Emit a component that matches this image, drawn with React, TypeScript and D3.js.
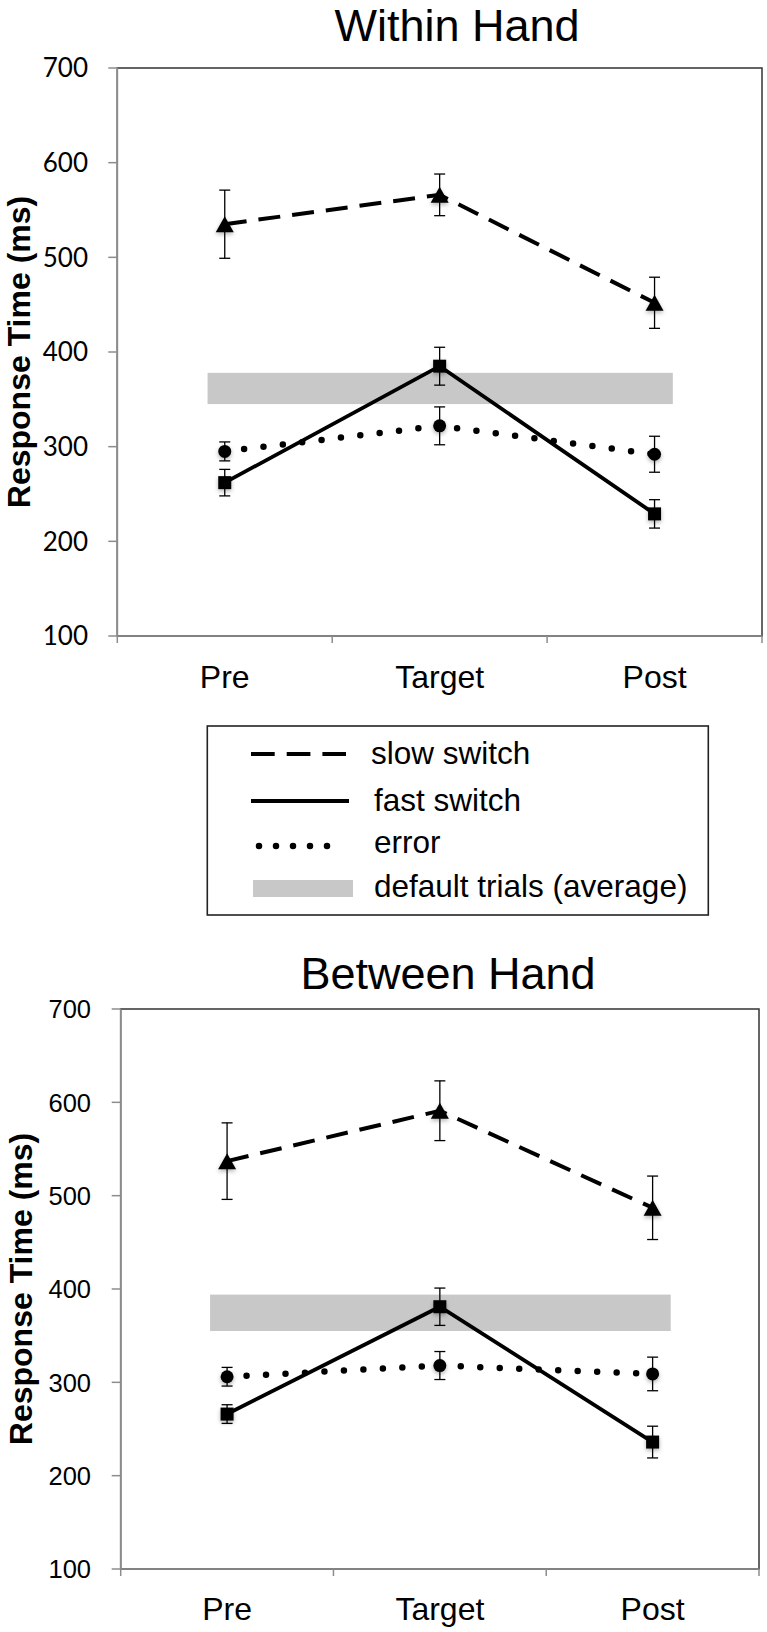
import React from 'react';
import * as d3 from 'd3';

// categories and axis ticks
const categories = ['Pre', 'Target', 'Post'];
const yTicks = [100, 200, 300, 400, 500, 600, 700];

// Within Hand (means and error bar half-widths, ms)
const withinSlow = [535, 566, 452];
const withinSlowErr = [36, 22, 27];
const withinFast = [262, 385, 229];
const withinFastErr = [14, 20, 15];
const withinError = [295, 322, 292];
const withinErrorErr = [10, 20, 19];
const withinDefault = [345, 378];

// Between Hand
const betweenSlow = [537, 591, 487];
const betweenSlowErr = [41, 32, 34];
const betweenFast = [266, 381, 236];
const betweenFastErr = [10, 20, 17];
const betweenError = [306, 318, 309];
const betweenErrorErr = [10, 15, 18];
const betweenDefault = [355, 394];

const legendItems = ['slow switch', 'fast switch', 'error', 'default trials (average)'];

type Kind = 'slow' | 'fast' | 'error';

const styles: Record<Kind, { dash: string; width: number; cap: 'butt' | 'round' }> = {
  slow: { dash: '22 12', width: 4, cap: 'butt' },
  fast: { dash: 'none', width: 3.8, cap: 'butt' },
  error: { dash: '0 19.5', width: 6.5, cap: 'round' },
};

const SANS = '"Liberation Sans", Arial, Helvetica, sans-serif';

interface PanelProps {
  title: string;
  data: Record<Kind, { values: number[]; errors: number[] }>;
  band: number[];
  frame: { l: number; t: number; r: number; b: number };
  titleX: number;
  titleY: number;
  labelX: number;
  tickEndX: number;
  tickFont: string;
  tickSize: number;
  xLabelY: number;
}

const marker = (kind: Kind, x: number, y: number) => {
  if (kind === 'slow') {
    const w = 18, h = 16;
    return <path d={`M${x},${y - h / 2}L${x + w / 2},${y + h / 2}L${x - w / 2},${y + h / 2}Z`} fill="#000" />;
  }
  if (kind === 'fast') return <rect x={x - 6.5} y={y - 6.5} width={13} height={13} fill="#000" />;
  return <circle cx={x} cy={y} r={6.5} fill="#000" />;
};

const Panel: React.FC<PanelProps> = ({ title, data, band, frame, titleX, titleY, labelX, tickEndX, tickFont, tickSize, xLabelY }) => {
  const x = d3.scaleBand<string>().domain(categories).range([frame.l, frame.r]).padding(0);
  const y = d3.scaleLinear().domain([100, 700]).range([frame.b, frame.t]);
  const bw = x.bandwidth();
  const cx = (c: string) => (x(c) ?? 0) + bw / 2;

  const line = d3.line<number>()
    .x((_, i) => cx(categories[i]))
    .y(d => y(d));

  const kinds: Kind[] = ['error', 'fast', 'slow'];
  const xEdges = [...categories.map(c => x(c) ?? 0), frame.r];

  return (
    <g>
      <text x={titleX} y={titleY} textAnchor="middle" fontFamily={SANS} fontSize={45}>{title}</text>

      {/* plot frame */}
      <rect x={frame.l} y={frame.t} width={frame.r - frame.l} height={frame.b - frame.t} fill="none" stroke="#333" strokeWidth={1.5} />
      <line x1={frame.l} x2={frame.l} y1={frame.t} y2={frame.b} stroke="#8c8c8c" strokeWidth={1.6} />
      <line x1={frame.l} x2={frame.r} y1={frame.b} y2={frame.b} stroke="#8c8c8c" strokeWidth={1.6} />

      {/* y ticks */}
      {yTicks.map(t => (
        <g key={t}>
          <line x1={frame.l - 9} x2={frame.l} y1={y(t)} y2={y(t)} stroke="#8c8c8c" strokeWidth={1.5} />
          <text x={tickEndX} y={y(t)} dy="0.36em" textAnchor="end" fontFamily={tickFont} fontSize={tickSize}>{t}</text>
        </g>
      ))}

      {/* x ticks and labels */}
      {xEdges.map((e, i) => (
        <line key={i} x1={e} x2={e} y1={frame.b} y2={frame.b + 7} stroke="#8c8c8c" strokeWidth={1.5} />
      ))}
      {categories.map(c => (
        <text key={c} x={cx(c)} y={xLabelY} textAnchor="middle" fontFamily={SANS} fontSize={32}>{c}</text>
      ))}

      <text transform={`translate(${labelX},${(frame.t + frame.b) / 2}) rotate(-90)`} textAnchor="middle"
        fontFamily={SANS} fontWeight="bold" fontSize={32}>Response Time (ms)</text>

      {/* default trials band */}
      <rect x={cx('Pre') - 0.08 * bw} width={cx('Post') - cx('Pre') + 0.165 * bw}
        y={y(band[1])} height={y(band[0]) - y(band[1])} fill="#c8c8c8" />

      {kinds.map(k => (
        <path key={k} d={line(data[k].values) ?? ''} fill="none" stroke="#000"
          strokeWidth={styles[k].width} strokeDasharray={styles[k].dash} strokeLinecap={styles[k].cap} />
      ))}

      {/* error bars */}
      {kinds.map(k => data[k].values.map((v, i) => {
        const px = cx(categories[i]);
        const e = data[k].errors[i];
        return (
          <g key={`${k}-${i}`} stroke="#000" strokeWidth={1.3}>
            <line x1={px} x2={px} y1={y(v + e)} y2={y(v - e)} />
            <line x1={px - 5.5} x2={px + 5.5} y1={y(v + e)} y2={y(v + e)} />
            <line x1={px - 5.5} x2={px + 5.5} y1={y(v - e)} y2={y(v - e)} />
          </g>
        );
      }))}

      {/* markers */}
      <g filter="url(#shadow)">
        {kinds.map(k => data[k].values.map((v, i) => (
          <g key={`m-${k}-${i}`}>{marker(k, cx(categories[i]), y(v))}</g>
        )))}
      </g>
    </g>
  );
};

const Legend: React.FC = () => {
  const rows = [754, 801, 846, 888];
  const textY = [764, 811, 853, 897];
  return (
    <g>
      <rect x={207.3} y={726} width={501} height={189} fill="#fff" stroke="#222" strokeWidth={1.6} />
      <line x1={251} x2={346} y1={rows[0]} y2={rows[0]} stroke="#000" strokeWidth={4} strokeDasharray="23.7 12" />
      <line x1={251} x2={349} y1={rows[1]} y2={rows[1]} stroke="#000" strokeWidth={4} />
      <line x1={259} x2={344} y1={rows[2]} y2={rows[2]} stroke="#000" strokeWidth={6.5} strokeDasharray="0 17" strokeLinecap="round" />
      <rect x={253} y={880} width={100} height={17} fill="#c8c8c8" />
      {legendItems.map((t, i) => (
        <text key={t} x={i === 0 ? 371 : 374} y={textY[i]} fontFamily={SANS} fontSize={31.5}>{t}</text>
      ))}
    </g>
  );
};

export default function App() {
  return (
    <svg width={767} height={1632} style={{ position: 'absolute', left: 0, top: 0, background: '#fff' }}>
      <defs>
        <filter id="shadow" x="-50%" y="-50%" width="200%" height="200%">
          <feDropShadow dx={0} dy={2} stdDeviation={2} floodColor="#000" floodOpacity={0.3} />
        </filter>
      </defs>
      <Panel
        title="Within Hand"
        data={{
          slow: { values: withinSlow, errors: withinSlowErr },
          fast: { values: withinFast, errors: withinFastErr },
          error: { values: withinError, errors: withinErrorErr },
        }}
        band={withinDefault}
        frame={{ l: 117.3, t: 68, r: 762, b: 636 }}
        titleX={457}
        titleY={41}
        labelX={29.5}
        tickEndX={88}
        tickFont="Lato, sans-serif"
        tickSize={26}
        xLabelY={688}
      />
      <Legend />
      <Panel
        title="Between Hand"
        data={{
          slow: { values: betweenSlow, errors: betweenSlowErr },
          fast: { values: betweenFast, errors: betweenFastErr },
          error: { values: betweenError, errors: betweenErrorErr },
        }}
        band={betweenDefault}
        frame={{ l: 120.7, t: 1009, r: 759, b: 1569 }}
        titleX={448}
        titleY={989}
        labelX={32}
        tickEndX={91}
        tickFont={SANS}
        tickSize={25.5}
        xLabelY={1620}
      />
    </svg>
  );
}
